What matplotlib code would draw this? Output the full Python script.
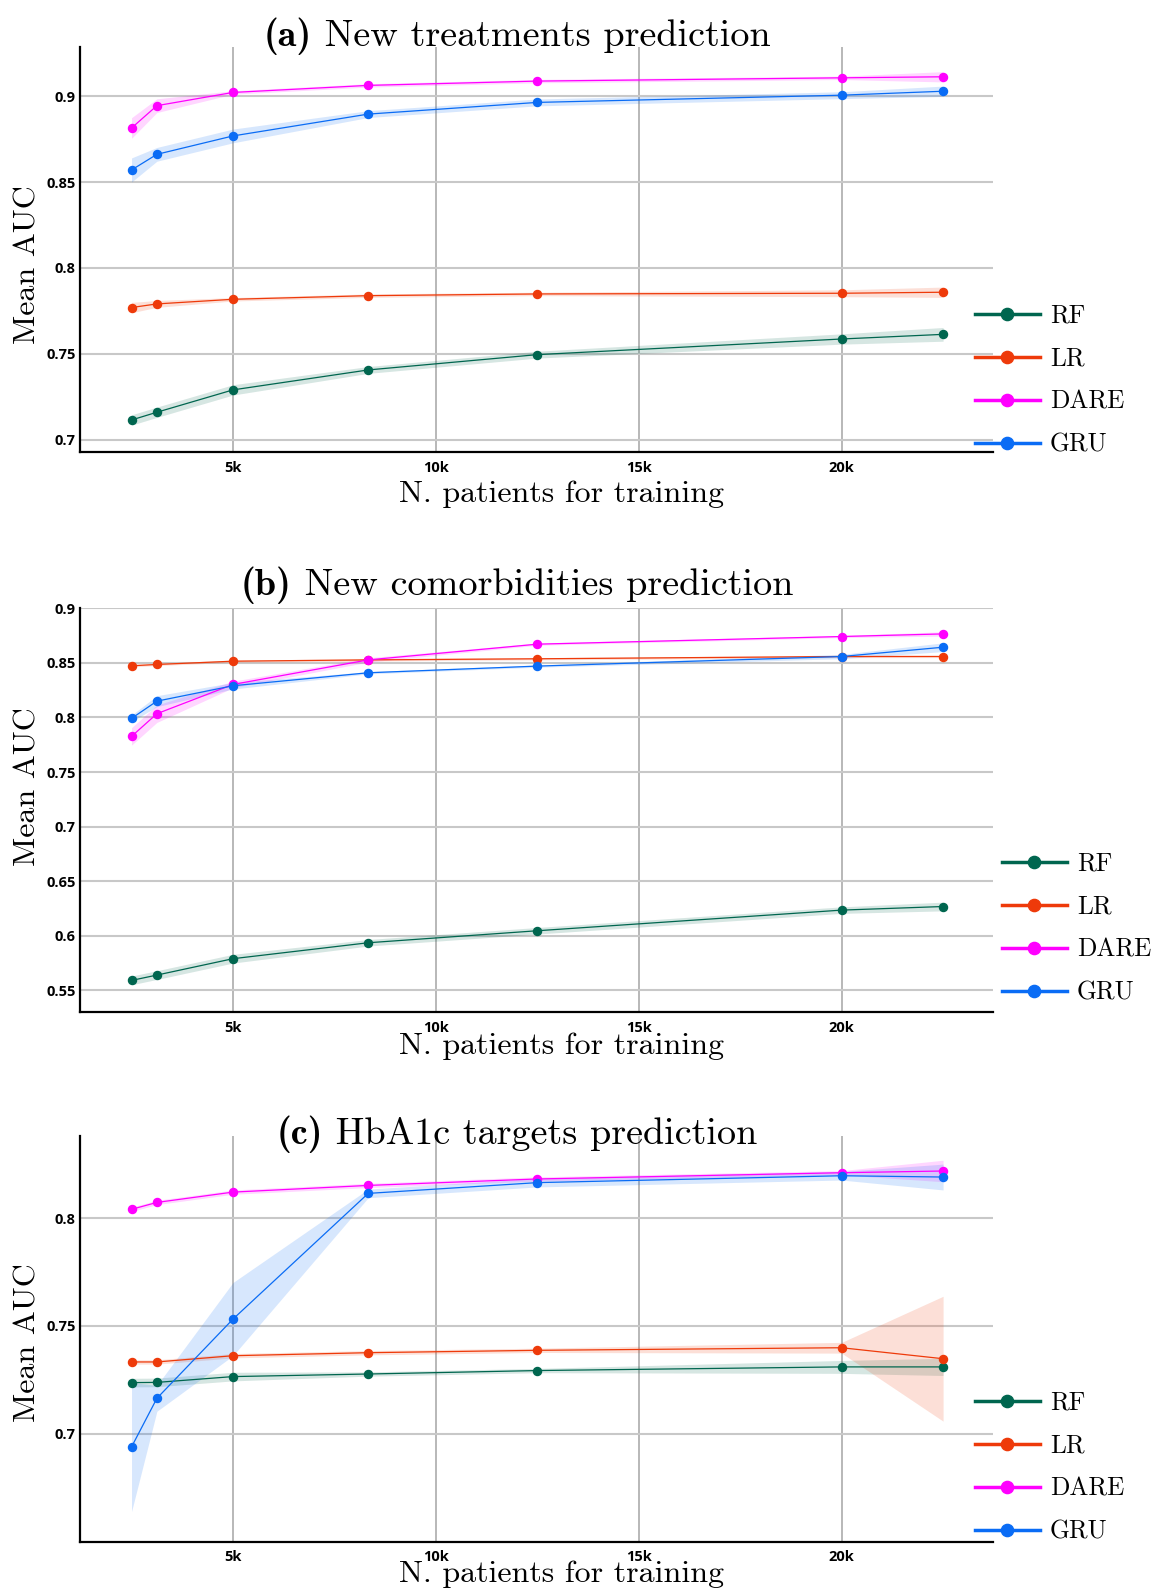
import numpy as np
import matplotlib
matplotlib.use("Agg")
import matplotlib.pyplot as plt
from matplotlib.lines import Line2D

plt.rcParams['axes.unicode_minus'] = False

# training set sizes (shared by all panels)
n_patients = [2500, 3125, 5000, 8333, 12500, 20000, 22500]

models = ['RF', 'LR', 'DARE', 'GRU']
colors = {'RF': '#00664f', 'LR': '#ee3a0a', 'DARE': '#ff00ff', 'GRU': '#0a6cf5'}

# (a) new treatments
a_rf = [0.7116, 0.7161, 0.7291, 0.7407, 0.7496, 0.7587, 0.7614]
a_lr = [0.7770, 0.7791, 0.7818, 0.7839, 0.7849, 0.7853, 0.7859]
a_dare = [0.8814, 0.8944, 0.9021, 0.9062, 0.9087, 0.9106, 0.9112]
a_gru = [0.8570, 0.8661, 0.8768, 0.8895, 0.8963, 0.9005, 0.9028]
a_rf_err = [0.003, 0.003, 0.003, 0.002, 0.002, 0.003, 0.004]
a_lr_err = [0.003, 0.002, 0.001, 0.001, 0.001, 0.002, 0.003]
a_dare_err = [0.006, 0.004, 0.001, 0.001, 0.001, 0.001, 0.003]
a_gru_err = [0.007, 0.004, 0.004, 0.002, 0.002, 0.002, 0.003]

# (b) new comorbidities
b_rf = [0.5591, 0.5640, 0.5790, 0.5936, 0.6046, 0.6235, 0.6268]
b_lr = [0.8473, 0.8485, 0.8515, 0.8527, 0.8537, 0.8558, 0.8558]
b_dare = [0.7826, 0.8034, 0.8302, 0.8527, 0.8671, 0.8741, 0.8765]
b_gru = [0.7991, 0.8149, 0.8290, 0.8409, 0.8470, 0.8558, 0.8643]
b_rf_err = [0.004, 0.004, 0.004, 0.003, 0.003, 0.003, 0.004]
b_lr_err = [0.001, 0.001, 0.001, 0.001, 0.001, 0.001, 0.001]
b_dare_err = [0.008, 0.008, 0.003, 0.002, 0.001, 0.001, 0.002]
b_gru_err = [0.003, 0.005, 0.003, 0.001, 0.001, 0.002, 0.004]

# (c) HbA1c targets
c_rf = [0.7237, 0.7238, 0.7265, 0.7277, 0.7293, 0.7310, 0.7310]
c_lr = [0.7333, 0.7333, 0.7362, 0.7376, 0.7387, 0.7399, 0.7348]
c_dare = [0.8042, 0.8074, 0.8122, 0.8153, 0.8183, 0.8212, 0.8220]
c_gru = [0.6938, 0.7164, 0.7532, 0.8116, 0.8166, 0.8198, 0.8192]
c_rf_err = [0.002, 0.002, 0.002, 0.001, 0.001, 0.003, 0.004]
c_lr_err = [0.001, 0.001, 0.001, 0.001, 0.001, 0.0025, 0.029]
c_dare_err = [0.001, 0.001, 0.001, 0.001, 0.001, 0.001, 0.005]
c_gru_err = [0.030, 0.006, 0.017, 0.002, 0.002, 0.002, 0.006]

x_ticks = [5000, 10000, 15000, 20000]
x_ticklabels = ['5k', '10k', '15k', '20k']

W, H = 1153, 1594
fig = plt.figure(figsize=(W / 100, H / 100), dpi=100)
renderer = fig.canvas.get_renderer()

panels = [
    dict(tag='(a)', title=' New treatments prediction',
         means=[a_rf, a_lr, a_dare, a_gru], errs=[a_rf_err, a_lr_err, a_dare_err, a_gru_err],
         yticks=[0.7, 0.75, 0.8, 0.85, 0.9], ylim=(0.6928, 0.9287),
         box=(46.7, 452.3), title_y=36, ylab_y=265, xlab_y=494,
         leg_x=975, leg_y=314),
    dict(tag='(b)', title=' New comorbidities prediction',
         means=[b_rf, b_lr, b_dare, b_gru], errs=[b_rf_err, b_lr_err, b_dare_err, b_gru_err],
         yticks=[0.55, 0.6, 0.65, 0.7, 0.75, 0.8, 0.85, 0.9], ylim=(0.5299, 0.9005),
         box=(607.7, 1012.3), title_y=585, ylab_y=787, xlab_y=1046,
         leg_x=1002, leg_y=862),
    dict(tag='(c)', title=' HbA1c targets prediction',
         means=[c_rf, c_lr, c_dare, c_gru], errs=[c_rf_err, c_lr_err, c_dare_err, c_gru_err],
         yticks=[0.7, 0.75, 0.8], ylim=(0.6498, 0.8384),
         box=(1135.7, 1541.7), title_y=1134, ylab_y=1343, xlab_y=1574,
         leg_x=975, leg_y=1401),
]

left, right = 80.4, 993.4

for p in panels:
    top, bottom = p['box']
    ax = fig.add_axes([left / W, 1 - bottom / H, (right - left) / W, (bottom - top) / H])
    x = np.array(n_patients)
    for name, m, e in zip(models, p['means'], p['errs']):
        m = np.array(m)
        e = np.array(e)
        ax.fill_between(x, m - e, m + e, color=colors[name], alpha=0.16, lw=0, zorder=2)
        ax.plot(x, m, color=colors[name], lw=0.9, marker='o', ms=5.8, zorder=3)

    ax.set_xlim(1240, 23740)
    ax.set_ylim(*p['ylim'])
    ax.set_xticks(x_ticks)
    ax.set_xticklabels(x_ticklabels)
    ax.set_yticks(p['yticks'])
    ax.set_yticklabels([('%g' % t) for t in p['yticks']])
    for lab in ax.get_xticklabels() + ax.get_yticklabels():
        lab.set_fontfamily('Open Sans')
        lab.set_fontweight('bold')
        lab.set_fontsize(10.5)
    ax.tick_params(axis='both', length=0)
    ax.tick_params(axis='x', pad=6)
    ax.tick_params(axis='y', pad=3.5)

    ax.grid(axis='y', color='#c8c8c8', lw=1.5, zorder=0)
    ax.grid(axis='x', color='#a4a4a4', lw=1.1, zorder=0)
    ax.set_axisbelow(True)
    for s in ['top', 'right']:
        ax.spines[s].set_visible(False)
    for s in ['left', 'bottom']:
        ax.spines[s].set_linewidth(1.6)
        ax.spines[s].set_color('black')
    ax.spines['bottom'].set_zorder(5)

    # title: bold tag + roman text, centred together
    ty = 1 - p['title_y'] / H
    t1 = fig.text(0, ty, p['tag'], family='cmb10', fontsize=27.5, ha='left', va='center')
    t2 = fig.text(0, ty, p['title'], family='cmr10', fontsize=27.5, ha='left', va='center')
    w1 = t1.get_window_extent(renderer).width
    w2 = t2.get_window_extent(renderer).width
    x0 = 517 - (w1 + w2) / 2
    t1.set_x(x0 / W)
    t2.set_x((x0 + w1) / W)

    fig.text(562 / W, 1 - p['xlab_y'] / H, 'N. patients for training', family='cmr10',
             fontsize=23, ha='center', va='center')
    fig.text(28 / W, 1 - p['ylab_y'] / H, 'Mean AUC', family='cmr10', fontsize=23,
             rotation=90, ha='center', va='center')

    handles = [Line2D([], [], color=colors[n], lw=2.5, marker='o', ms=8.8) for n in models]
    ax.legend(handles, models, loc='upper left',
              bbox_to_anchor=(p['leg_x'] / W, 1 - (p['leg_y'] - 10) / H),
              bbox_transform=fig.transFigure, frameon=False,
              prop={'family': 'cmr10', 'size': 18.3}, handlelength=2.55,
              handletextpad=0.4, labelspacing=0.76, borderpad=0, borderaxespad=0)

fig.savefig('out.png', dpi=100)
